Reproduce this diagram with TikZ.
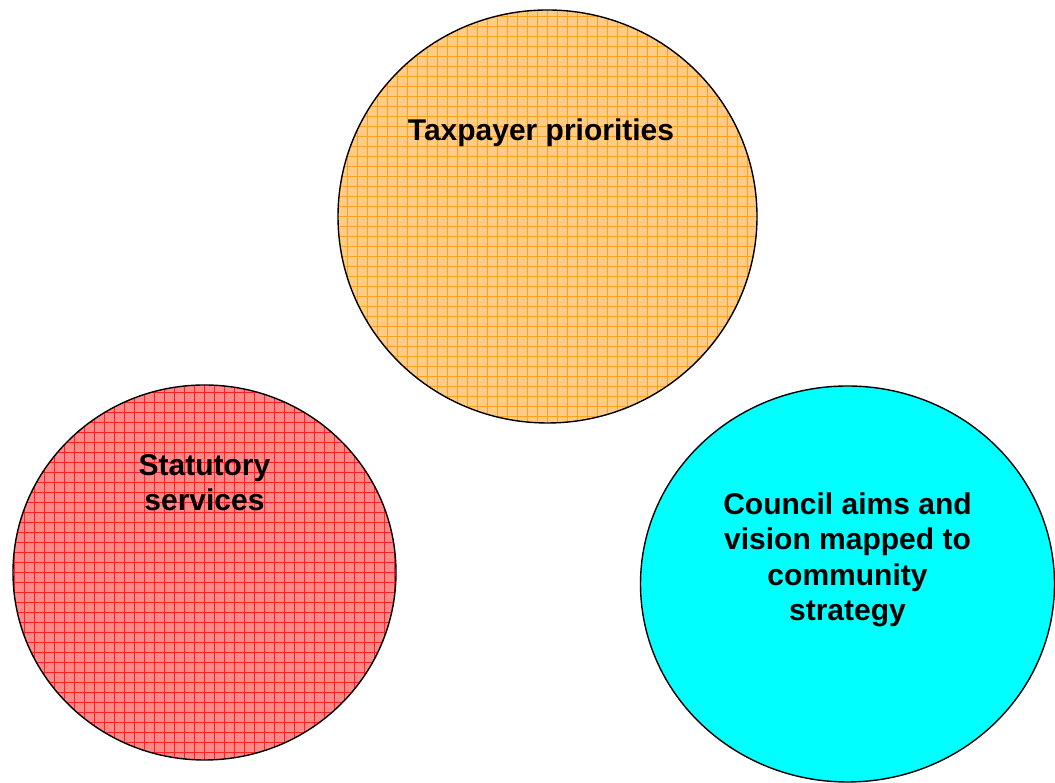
\documentclass[tikz,border=0pt]{standalone}
\usepackage{fontspec}
\setmainfont{Liberation Sans}
\usetikzlibrary{shapes.geometric}
\definecolor{orfill}{HTML}{FFCC88}
\definecolor{orline}{HTML}{FFA020}
\definecolor{rdfill}{HTML}{FF8888}
\definecolor{rdline}{HTML}{FF2020}
\definecolor{cyfill}{HTML}{00FFFF}
\begin{document}
\begin{tikzpicture}[x=1pt,y=1pt,
  bubble/.style={ellipse, draw=black, line width=1.4pt, inner sep=0pt},
  gridfill/.style={path picture={\draw[#1, line width=0.9pt, step=10pt]
      ([xshift=-5pt,yshift=-5pt]path picture bounding box.south west) grid
      ([xshift=5pt,yshift=5pt]path picture bounding box.north east);}},
  label/.style={font=\fontsize{30}{35.5}\selectfont\bfseries, align=center, inner sep=0pt}]
\useasboundingbox (0,0) rectangle (1055,783);
\node[bubble, fill=orfill, gridfill=orline, minimum width=419pt, minimum height=413pt] (tax) at (547.5,566.5) {};
\node[bubble, fill=rdfill, gridfill=rdline, minimum width=383pt, minimum height=375pt] (stat) at (204.5,210.5) {};
\node[bubble, fill=cyfill, minimum width=414pt, minimum height=396pt] (council) at (847.5,199) {};
\node[label, anchor=base] (taxt) at (541,642) {Taxpayer priorities};
\node[label, anchor=base] (statt) at (204.5,272) {Statutory\\services};
\node[label, anchor=base] (councilt) at (847.5,162) {Council aims and\\vision mapped to\\community\\strategy};
\end{tikzpicture}
\end{document}
